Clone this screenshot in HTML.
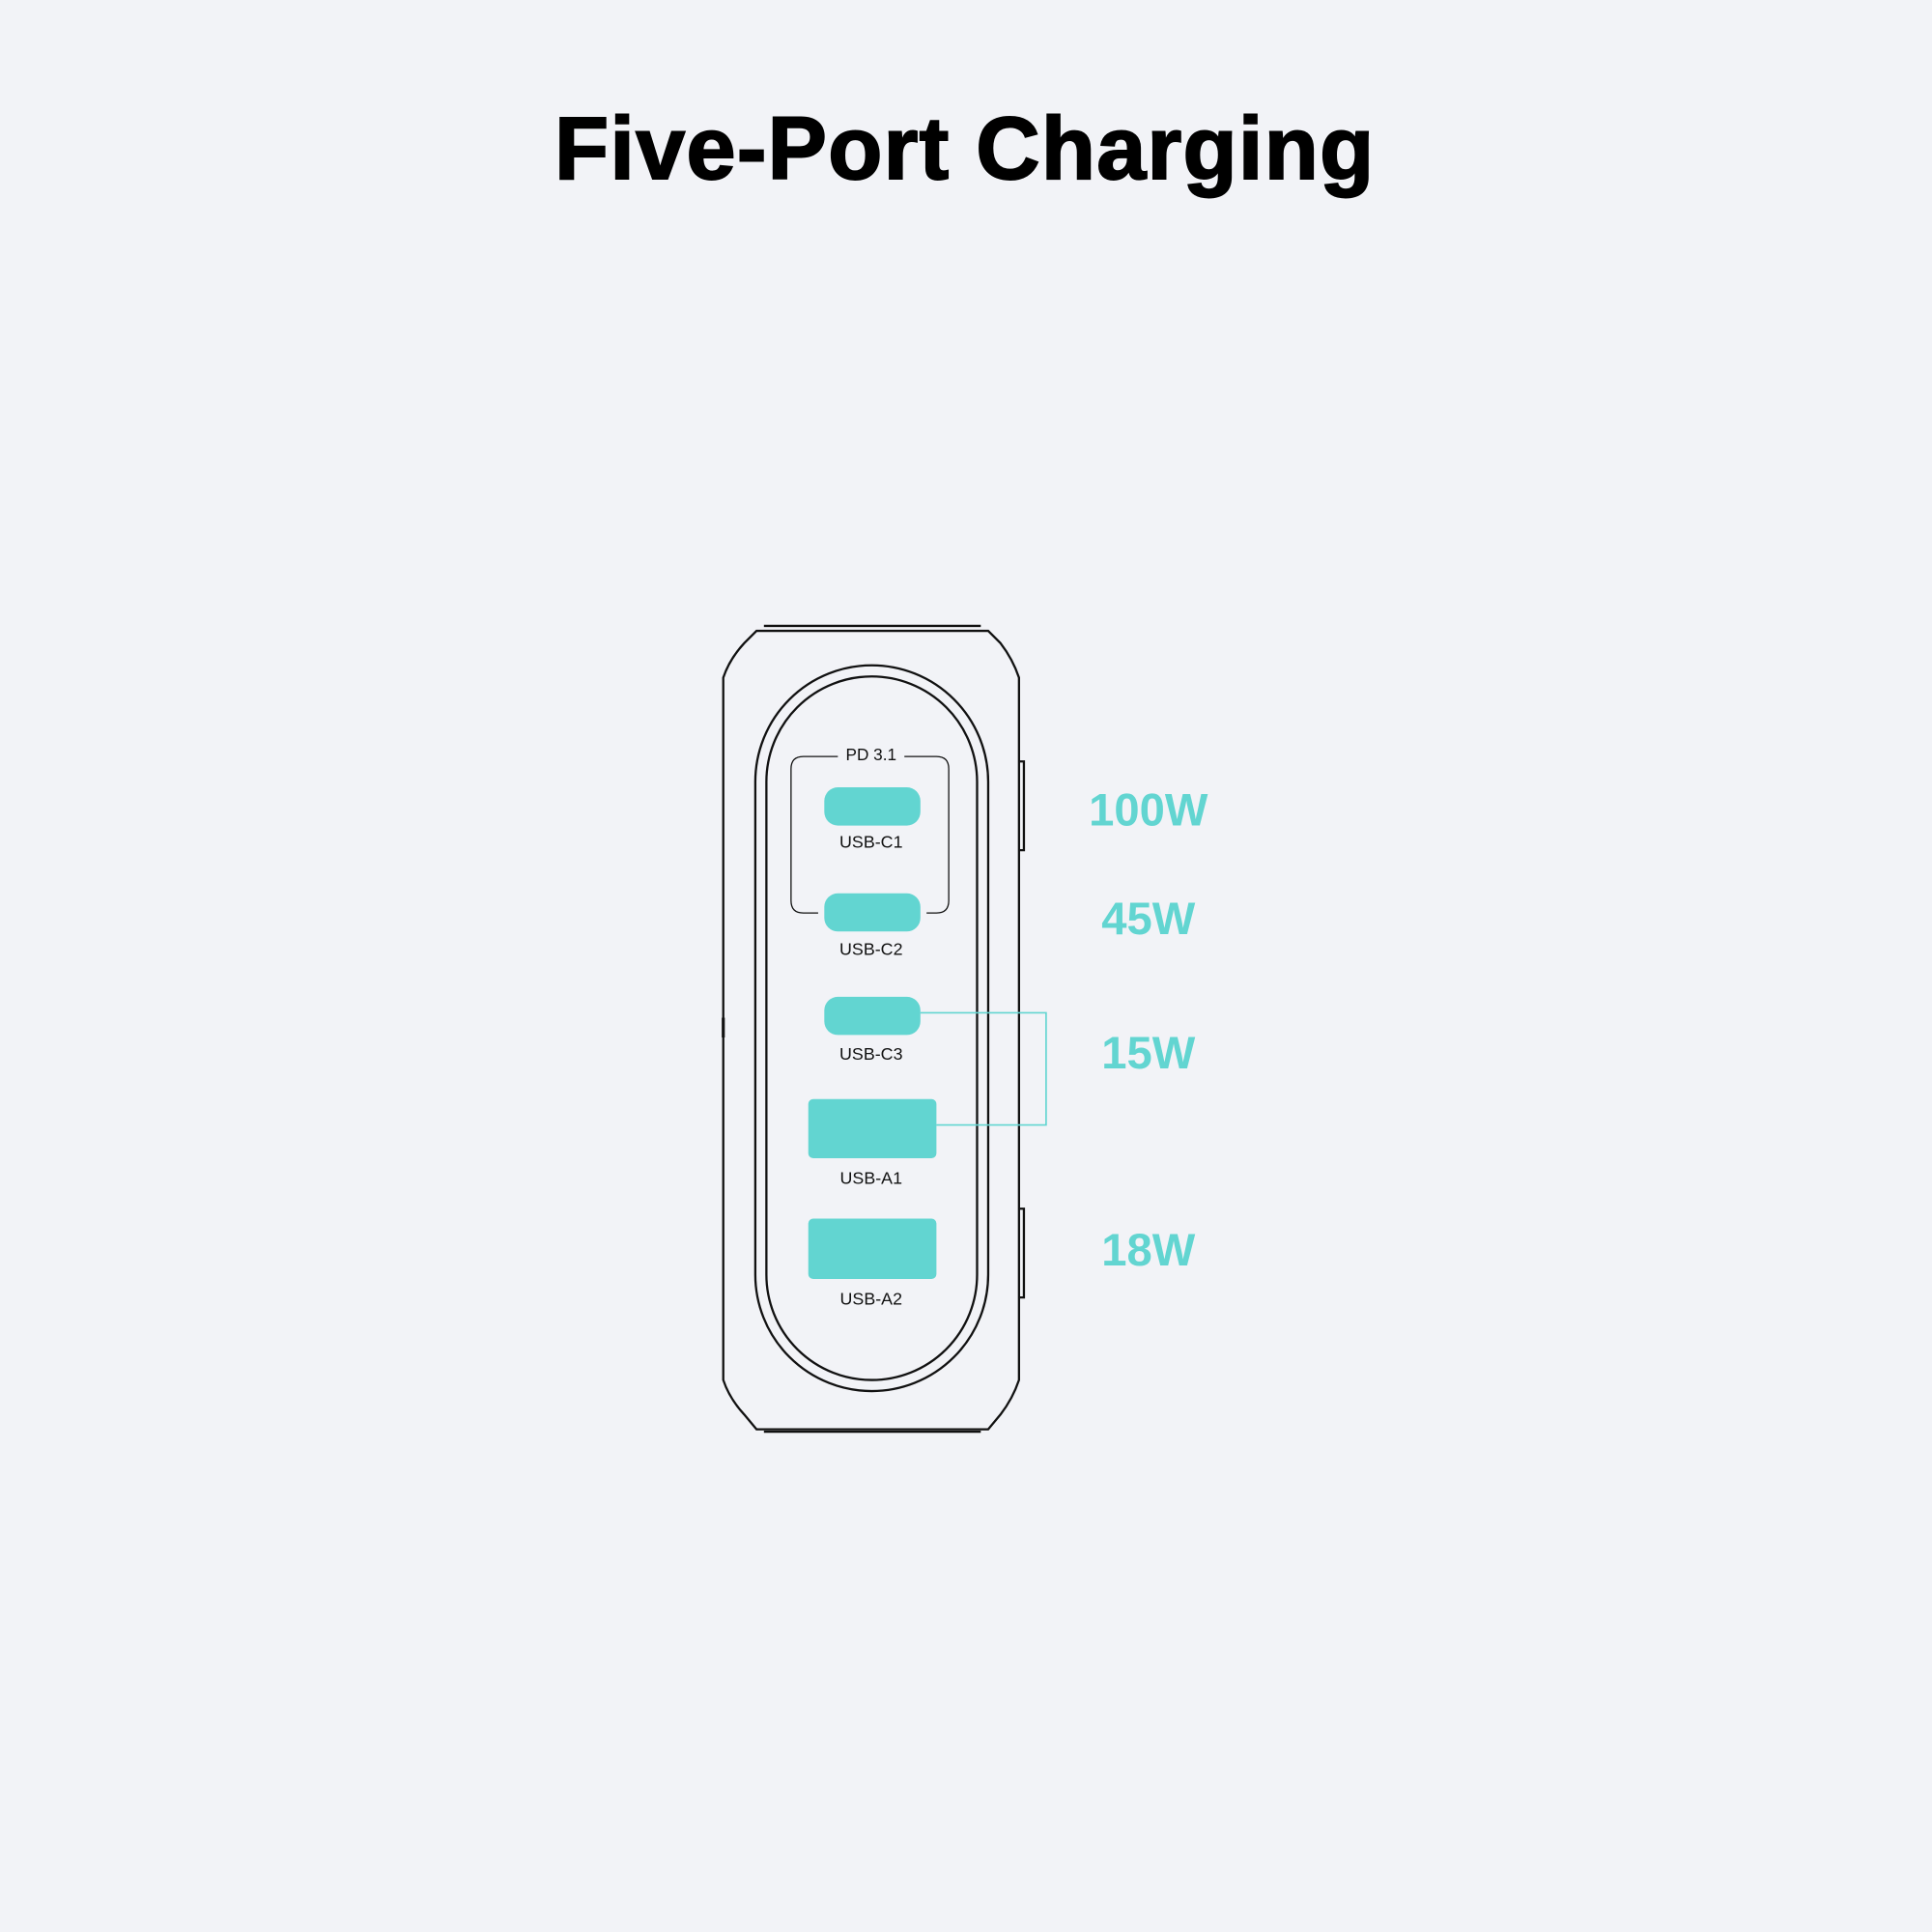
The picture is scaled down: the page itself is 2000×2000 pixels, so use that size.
<!DOCTYPE html>
<html><head><meta charset="utf-8"><style>
html,body{margin:0;padding:0;background:#f2f3f7;}
svg{display:block;}
</style></head><body>
<svg width="2000" height="2000" viewBox="0 0 1568 1568" xmlns="http://www.w3.org/2000/svg">
<rect width="1568" height="1568" fill="#f2f3f7"/>
<text x="783" y="145" text-anchor="middle" font-family="Liberation Sans, sans-serif" font-weight="bold" font-size="72" letter-spacing="1" fill="#000" stroke="#000" stroke-width="1.5">Five-Port Charging</text>
<g fill="none" stroke="#111" stroke-width="1.8">
<path d="M620 508 H796 M620 1162 H796"/>
<path d="M614 512 H802 L812 522 Q822 535 827 550 V1120 Q822 1135 812 1148 L802 1160 H614 L604 1148 Q592 1135 587 1120 V550 Q592 535 604 522 Z"/>
<path d="M827 618 H831 V690 H827 M827 981 H831 V1053 H827"/>
<path d="M587 826 V842" stroke-width="2.5"/>
<rect x="613" y="540" width="189" height="589" rx="94.5"/>
<rect x="622" y="549" width="171" height="571" rx="85.5"/>
<path d="M680 614 H652 Q642 614 642 624 V731 Q642 741 652 741 H664 M752 741 H760 Q770 741 770 731 V624 Q770 614 760 614 H734" stroke-width="1"/>
</g>
<text x="707" y="617" text-anchor="middle" font-family="Liberation Sans, sans-serif" font-size="13.5" fill="#111">PD 3.1</text>
<g fill="#62d5d1">
<rect x="669" y="639" width="78" height="31" rx="11"/>
<rect x="669" y="725" width="78" height="31" rx="11"/>
<rect x="669" y="809" width="78" height="31" rx="11"/>
<rect x="656" y="892" width="104" height="48" rx="4"/>
<rect x="656" y="989" width="104" height="49" rx="4"/>
</g>
<path d="M747 822 H849 V913 H760" fill="none" stroke="#62d5d1" stroke-width="1.3"/>
<g font-family="Liberation Sans, sans-serif" font-size="14" fill="#111" text-anchor="middle">
<text x="707" y="688">USB-C1</text>
<text x="707" y="775">USB-C2</text>
<text x="707" y="860">USB-C3</text>
<text x="707" y="961">USB-A1</text>
<text x="707" y="1059">USB-A2</text>
</g>
<g font-family="Liberation Sans, sans-serif" font-weight="bold" font-size="37" fill="#62d5d1" text-anchor="middle">
<text x="932" y="670">100W</text>
<text x="932" y="758">45W</text>
<text x="932" y="867">15W</text>
<text x="932" y="1027">18W</text>
</g>
</svg>
</body></html>
